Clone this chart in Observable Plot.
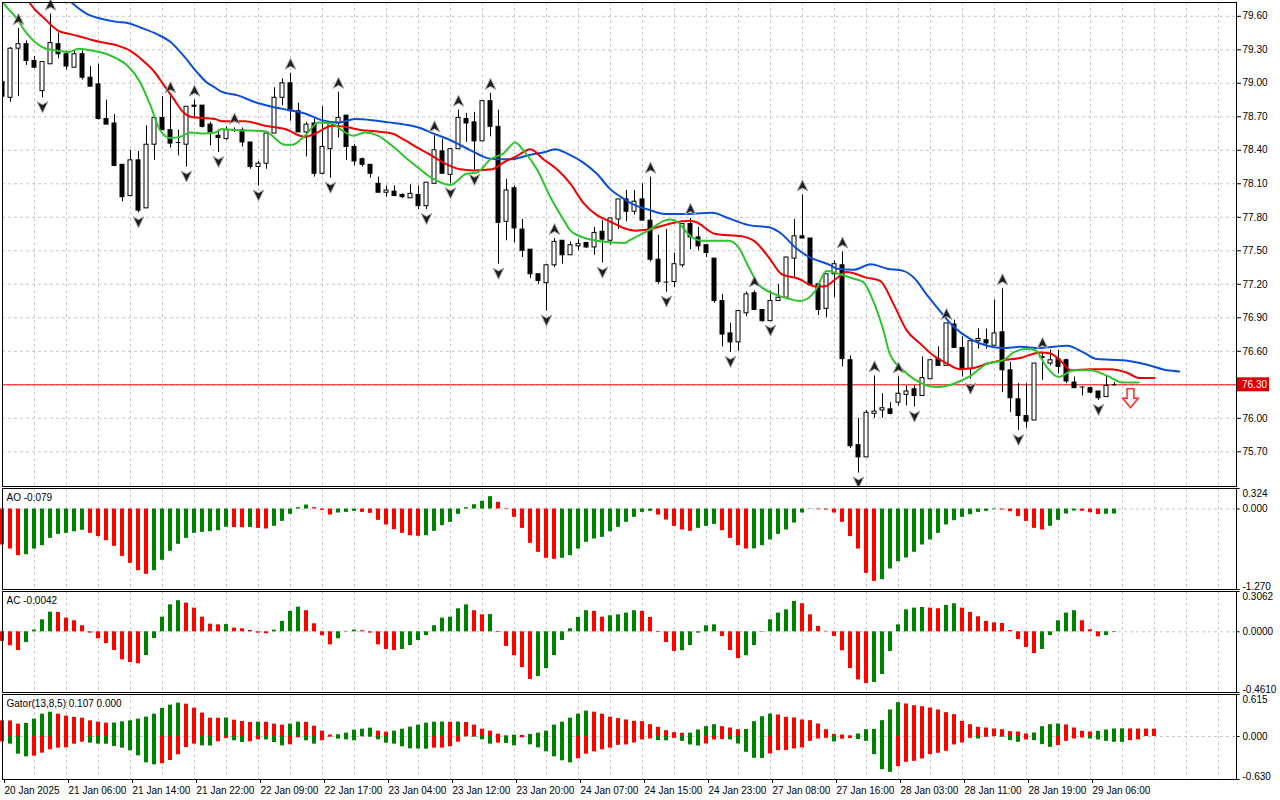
<!DOCTYPE html>
<html><head><meta charset="utf-8">
<script src="https://cdn.jsdelivr.net/npm/d3@7"></script>
<script src="https://cdn.jsdelivr.net/npm/@observablehq/plot@0.6"></script>
<style>
html,body{margin:0;padding:0;background:#fff;overflow:hidden}
#chart{position:relative;width:1280px;height:800px;background:#fff;overflow:hidden}
#chart svg{position:absolute;left:0}
</style></head><body><div id="chart"></div>
<script>
// ---------- candles (hourly bars, index 0..139) ----------
const open  = [79.01,78.87,79.31,79.35,79.20,78.93,79.17,79.35,79.26,79.14,79.26,79.05,78.99,78.68,78.64,78.27,77.99,78.31,77.88,78.45,
78.69,78.58,78.47,78.45,78.80,78.80,78.63,78.53,78.50,78.58,78.58,78.47,78.25,78.28,78.55,78.87,79.00,78.75,78.56,78.64,
78.19,78.41,78.64,78.71,78.43,78.32,78.27,78.10,78.02,78.03,78.00,77.97,78.00,77.90,78.10,78.39,78.18,78.41,78.68,78.65,
78.48,78.84,78.61,77.76,78.06,77.69,77.51,77.29,77.21,77.37,77.59,77.46,77.54,77.57,77.53,77.67,77.59,77.78,77.96,77.85,
77.96,77.77,77.42,77.22,77.22,77.37,77.74,77.62,77.55,77.43,77.05,76.76,76.68,76.94,77.12,76.97,76.87,77.05,77.08,77.43,
77.63,77.61,77.20,76.98,77.29,77.37,76.52,75.76,75.65,76.04,76.07,76.08,76.14,76.21,76.26,76.20,76.35,76.53,76.47,76.84,
76.63,76.44,76.69,76.70,76.65,76.77,76.43,76.17,76.02,75.98,76.55,76.49,76.53,76.52,76.32,76.28,76.27,76.24,76.19,76.30];
const high  = [79.03,79.32,79.49,79.38,79.24,79.19,79.62,79.45,79.29,79.30,79.29,79.15,79.17,78.85,78.72,78.27,78.40,78.39,78.62,78.70,
78.88,78.88,78.58,78.79,78.85,78.80,78.65,78.58,78.61,78.60,78.60,78.47,78.30,78.55,78.96,79.04,79.09,78.82,78.65,78.68,
78.79,78.65,78.92,78.71,78.45,78.33,78.27,78.16,78.08,78.08,78.01,78.09,78.08,78.11,78.53,78.50,78.41,78.76,78.73,78.74,
78.84,78.91,78.76,78.14,78.08,77.78,77.51,77.29,77.38,77.61,77.59,77.58,77.60,77.57,77.71,77.77,77.79,77.96,78.04,78.04,
78.10,78.16,77.64,77.69,77.48,77.74,77.79,77.71,77.55,77.43,77.11,76.85,76.96,77.13,77.14,76.97,77.14,77.20,77.44,77.78,
78.00,77.61,77.20,77.29,77.41,77.49,76.56,76.00,76.07,76.38,76.22,76.14,76.37,76.29,76.29,76.55,76.52,76.64,76.85,76.88,
76.73,76.69,76.80,76.80,77.06,77.16,76.50,76.31,76.31,76.49,76.59,76.61,76.61,76.53,76.37,76.28,76.28,76.24,76.38,76.32];
const low   = [78.86,78.83,78.88,79.16,79.13,78.87,79.17,79.22,79.12,79.14,79.03,78.97,78.67,78.63,78.26,77.94,77.99,77.84,77.88,78.31,
78.58,78.42,78.35,78.25,78.68,78.60,78.44,78.38,78.49,78.56,78.43,78.23,78.08,78.23,78.55,78.80,78.66,78.56,78.34,78.16,
78.18,78.15,78.51,78.31,78.26,78.25,78.15,78.02,77.98,77.99,77.97,77.97,77.87,77.87,78.10,78.19,78.10,78.41,78.47,78.22,
78.48,78.52,77.38,77.59,77.57,77.44,77.25,77.20,76.96,77.35,77.38,77.46,77.50,77.52,77.46,77.39,77.55,77.69,77.76,77.82,
77.77,77.40,77.20,77.13,77.17,77.35,77.51,77.50,77.44,77.03,76.64,76.59,76.60,76.91,76.97,76.86,76.87,77.05,77.08,77.26,
77.61,77.19,76.92,76.90,77.08,76.46,75.73,75.51,75.65,76.00,76.00,76.03,76.11,76.11,76.10,76.20,76.35,76.47,76.47,76.63,
76.37,76.35,76.62,76.62,76.65,76.23,76.05,75.89,75.91,75.98,76.34,76.47,76.40,76.31,76.27,76.20,76.22,76.16,76.19,76.29];
const close = [78.88,79.31,79.35,79.20,79.14,79.19,79.36,79.26,79.15,79.26,79.05,78.97,78.68,78.63,78.26,77.98,78.31,77.86,78.45,78.69,
78.58,78.46,78.47,78.79,78.79,78.61,78.56,78.51,78.58,78.58,78.47,78.25,78.28,78.55,78.87,79.00,78.75,78.56,78.63,78.19,
78.43,78.65,78.69,78.43,78.30,78.27,78.19,78.02,78.04,77.99,77.98,78.01,77.90,78.11,78.40,78.19,78.41,78.69,78.64,78.48,
78.84,78.61,77.75,78.04,77.70,77.50,77.29,77.23,77.37,77.58,77.46,77.55,77.56,77.53,77.66,77.60,77.79,77.96,77.85,77.94,
77.77,77.42,77.22,77.22,77.38,77.74,77.62,77.54,77.48,77.05,76.75,76.68,76.96,77.11,76.97,76.87,77.05,77.08,77.44,77.63,
77.61,77.19,76.97,77.29,77.38,76.53,75.75,75.65,76.05,76.06,76.09,76.04,76.22,76.24,76.20,76.36,76.52,76.47,76.85,76.63,
76.44,76.69,76.71,76.67,76.76,76.43,76.18,76.02,75.97,76.49,76.54,76.52,76.46,76.33,76.27,76.28,76.23,76.18,76.29,76.30];

// fractal bars (index)
const fractUp   = [2,6,21,24,29,36,42,54,57,61,69,81,86,94,100,105,109,112,118,125,130];
const fractDown = [5,17,23,27,32,41,53,56,59,62,68,75,83,91,96,107,114,121,127,137];
// signal arrow
const signals = [{i:141, price:76.18}];
const bid = 76.30;

// Alligator lines: [bar position, price]
const jawPts = [[7.5,79.80],[8.7,79.72],[10.6,79.62],[12.2,79.58],[14.3,79.55],[15.6,79.54],[17.6,79.49],[19.3,79.44],[21.0,79.37],[22.6,79.25],[24.3,79.10],[25.5,79.01],[26.6,78.96],[27.2,78.93],[29.5,78.89],[31.6,78.83],[33.7,78.79],[35.8,78.76],[37.8,78.73],[39.9,78.67],[42.0,78.65],[44.1,78.68],[46.2,78.67],[48.3,78.65],[50.3,78.63],[52.2,78.60],[53.5,78.56],[56.0,78.49],[58.5,78.40],[60.6,78.33],[61.8,78.32],[63.5,78.32],[66.0,78.36],[67.6,78.38],[69.1,78.41],[70.6,78.37],[72.6,78.29],[74.3,78.19],[76.0,78.05],[77.8,77.96],[78.7,77.92],[80.7,77.87],[82.8,77.83],[84.9,77.83],[88.7,77.84],[90.8,77.79],[93.3,77.73],[95.8,77.71],[97.4,77.65],[99.1,77.53],[100.7,77.45],[103.5,77.37],[104.3,77.34],[106.4,77.33],[108.5,77.38],[110.6,77.34],[112.6,77.32],[113.9,77.26],[115.5,77.11],[117.2,76.96],[118.9,76.82],[121.0,76.71],[123.1,76.65],[125.1,76.63],[127.2,76.64],[129.7,76.63],[133.1,76.65],[135.1,76.59],[136.8,76.53],[140.1,76.52],[143.1,76.48],[145.6,76.43],[147.1,76.42]];
const teethPts = [[2.5,79.85],[3.5,79.71],[5.1,79.59],[7.0,79.47],[8.5,79.44],[10.6,79.40],[12.2,79.37],[14.3,79.34],[16.0,79.29],[17.6,79.20],[18.9,79.11],[20.1,78.99],[21.4,78.86],[22.6,78.74],[23.5,78.70],[26.6,78.68],[27.4,78.66],[30.3,78.66],[32.8,78.62],[35.3,78.59],[37.8,78.52],[39.1,78.55],[41.2,78.62],[42.8,78.61],[44.9,78.58],[46.6,78.57],[48.7,78.55],[50.3,78.49],[52.2,78.41],[53.0,78.38],[55.1,78.29],[57.2,78.23],[58.9,78.22],[61.2,78.23],[62.6,78.29],[64.3,78.35],[66.0,78.41],[67.6,78.32],[69.3,78.23],[71.0,78.10],[72.6,77.93],[74.3,77.82],[76.0,77.76],[77.8,77.70],[79.1,77.68],[80.7,77.69],[83.3,77.74],[85.7,77.77],[86.6,77.76],[89.1,77.65],[92.4,77.63],[94.1,77.58],[95.8,77.44],[97.4,77.29],[99.5,77.25],[101.6,77.18],[102.7,77.18],[104.2,77.25],[105.5,77.31],[108.0,77.26],[109.7,77.23],[111.4,77.02],[113.0,76.79],[114.7,76.67],[116.4,76.56],[118.1,76.49],[119.7,76.44],[121.4,76.45],[123.1,76.49],[125.1,76.52],[127.2,76.54],[129.7,76.59],[131.0,76.58],[132.6,76.49],[133.5,76.43],[136.0,76.44],[138.5,76.44],[140.5,76.41],[142.2,76.36],[144.0,76.36]];
const lipsPts = [[-0.3,79.76],[0.55,79.68],[1.8,79.58],[2.8,79.47],[3.9,79.38],[5.1,79.32],[7.0,79.29],[8.3,79.28],[9.5,79.31],[11.4,79.29],[13.1,79.26],[14.3,79.22],[15.6,79.16],[17.2,79.01],[18.5,78.80],[19.7,78.58],[21.0,78.51],[22.2,78.52],[23.5,78.56],[25.1,78.55],[26.6,78.56],[27.4,78.59],[29.5,78.58],[32.8,78.57],[35.3,78.45],[36.2,78.45],[37.8,78.53],[39.5,78.65],[41.2,78.64],[42.4,78.58],[43.9,78.53],[45.3,78.56],[47.0,78.53],[48.7,78.44],[50.8,78.31],[52.2,78.23],[53.5,78.16],[56.0,78.09],[58.0,78.19],[59.3,78.20],[61.0,78.32],[62.6,78.37],[64.1,78.47],[65.1,78.40],[66.8,78.23],[68.5,77.98],[70.2,77.77],[71.0,77.68],[72.2,77.63],[74.3,77.59],[77.8,77.57],[78.3,77.59],[80.7,77.68],[83.3,77.78],[84.1,77.77],[86.2,77.62],[87.4,77.59],[90.8,77.59],[92.0,77.53],[93.3,77.35],[94.5,77.20],[96.6,77.11],[98.3,77.07],[99.7,77.05],[101.6,77.14],[103.0,77.32],[104.7,77.29],[106.4,77.25],[107.6,77.22],[108.9,77.04],[110.1,76.79],[110.9,76.58],[112.6,76.43],[114.7,76.32],[116.8,76.28],[118.9,76.31],[121.0,76.38],[123.1,76.49],[125.1,76.52],[126.4,76.59],[128.0,76.62],[129.1,76.61],[130.5,76.46],[132.0,76.37],[133.9,76.43],[136.0,76.43],[138.1,76.38],[140.1,76.32],[142.0,76.32]];

// Awesome Oscillator
const aoValues = [-0.568,-0.631,-0.736,-0.720,-0.631,-0.578,-0.463,-0.400,-0.384,-0.358,-0.336,-0.384,-0.436,-0.500,-0.589,-0.747,-0.857,-0.973,-1.030,-0.973,
-0.810,-0.668,-0.557,-0.463,-0.384,-0.368,-0.358,-0.342,-0.289,-0.292,-0.295,-0.290,-0.305,-0.315,-0.273,-0.195,-0.084,0.021,0.063,0.021,
-0.021,-0.095,-0.063,-0.053,-0.037,-0.053,-0.068,-0.179,-0.252,-0.326,-0.384,-0.421,-0.431,-0.421,-0.352,-0.263,-0.210,-0.084,0.021,0.068,
0.121,0.195,0.105,0.011,-0.131,-0.305,-0.542,-0.683,-0.778,-0.794,-0.778,-0.736,-0.631,-0.526,-0.473,-0.447,-0.358,-0.289,-0.210,-0.131,
-0.053,-0.037,-0.095,-0.174,-0.273,-0.331,-0.352,-0.305,-0.273,-0.242,-0.342,-0.463,-0.578,-0.631,-0.628,-0.578,-0.489,-0.400,-0.331,-0.221,
-0.063,0.005,-0.011,-0.016,-0.063,-0.210,-0.436,-0.631,-1.015,-1.141,-1.115,-0.946,-0.831,-0.773,-0.683,-0.568,-0.489,-0.384,-0.252,-0.184,
-0.131,-0.089,-0.053,-0.037,-0.011,-0.016,-0.042,-0.116,-0.195,-0.305,-0.331,-0.273,-0.179,-0.079,-0.032,-0.036,-0.058,-0.086,-0.082,-0.079];
// Accelerator Oscillator
const acValues = [-0.073,-0.106,-0.142,-0.081,0.013,0.091,0.149,0.147,0.104,0.084,0.046,-0.010,-0.053,-0.089,-0.142,-0.213,-0.233,-0.243,-0.180,-0.051,
0.111,0.205,0.236,0.218,0.180,0.111,0.058,0.053,0.055,0.028,0.023,0.010,-0.010,-0.015,0.013,0.079,0.155,0.187,0.160,0.061,
-0.030,-0.099,-0.053,0.003,0.013,0.008,-0.010,-0.099,-0.134,-0.142,-0.134,-0.104,-0.066,-0.028,0.046,0.104,0.111,0.175,0.205,0.160,
0.129,0.131,-0.005,-0.111,-0.182,-0.271,-0.362,-0.339,-0.279,-0.180,-0.066,0.023,0.109,0.160,0.155,0.111,0.122,0.129,0.142,0.160,
0.155,0.109,-0.005,-0.081,-0.149,-0.144,-0.104,-0.010,0.046,0.053,-0.035,-0.142,-0.203,-0.182,-0.104,-0.003,0.091,0.142,0.167,0.230,
0.213,0.129,0.041,0.003,-0.035,-0.144,-0.279,-0.365,-0.393,-0.385,-0.324,-0.149,0.053,0.167,0.180,0.185,0.180,0.175,0.200,0.213,
0.180,0.147,0.114,0.079,0.068,0.063,0.010,-0.058,-0.119,-0.165,-0.134,-0.028,0.084,0.142,0.160,0.084,0.015,-0.038,-0.028,-0.0042];
// Gator oscillator (upper to bar 144, lower to bar 142)
const gatorUp = [0.229,0.227,0.181,0.190,0.254,0.327,0.356,0.327,0.298,0.278,0.268,0.229,0.210,0.195,0.197,0.215,0.229,0.254,0.283,0.327,
0.410,0.459,0.488,0.473,0.415,0.342,0.268,0.266,0.270,0.239,0.220,0.205,0.210,0.208,0.181,0.166,0.181,0.210,0.208,0.151,
0.078,0.020,0.025,0.049,0.093,0.107,0.122,0.078,0.063,0.078,0.107,0.137,0.166,0.195,0.210,0.212,0.208,0.211,0.205,0.166,
0.107,0.078,0.034,0.010,0.020,0.015,0.030,0.050,0.078,0.166,0.210,0.268,0.327,0.371,0.356,0.327,0.283,0.262,0.242,0.222,
0.217,0.173,0.134,0.085,0.056,0.046,0.050,0.095,0.144,0.173,0.144,0.124,0.100,0.102,0.217,0.290,0.329,0.315,0.281,0.271,
0.242,0.232,0.183,0.100,0.030,0.020,0.010,0.037,0.100,0.104,0.232,0.388,0.495,0.476,0.451,0.437,0.417,0.388,0.349,0.320,
0.222,0.173,0.134,0.124,0.110,0.100,0.071,0.066,0.037,0.051,0.144,0.173,0.183,0.168,0.124,0.076,0.066,0.076,0.095,0.110,
0.112,0.110,0.109,0.108,0.107];
const gatorDown = [-0.078,-0.112,-0.259,-0.298,-0.288,-0.244,-0.195,-0.171,-0.166,-0.112,-0.083,-0.098,-0.112,-0.114,-0.146,-0.171,-0.210,-0.283,-0.386,-0.415,
-0.400,-0.351,-0.268,-0.161,-0.112,-0.137,-0.139,-0.078,-0.029,-0.063,-0.088,-0.078,-0.049,-0.051,-0.088,-0.137,-0.122,-0.020,-0.063,-0.112,
-0.063,-0.010,-0.039,-0.049,-0.063,-0.005,-0.010,-0.049,-0.098,-0.112,-0.151,-0.181,-0.183,-0.186,-0.171,-0.170,-0.151,-0.083,-0.005,-0.010,
-0.049,-0.112,-0.098,-0.102,-0.137,-0.020,-0.122,-0.166,-0.225,-0.298,-0.356,-0.386,-0.327,-0.259,-0.225,-0.195,-0.171,-0.130,-0.124,-0.095,
-0.051,-0.037,-0.061,-0.063,-0.027,-0.071,-0.124,-0.139,-0.110,-0.051,-0.046,-0.051,-0.110,-0.232,-0.320,-0.322,-0.256,-0.207,-0.205,-0.183,
-0.168,-0.071,-0.037,-0.027,-0.080,-0.040,-0.030,-0.045,-0.071,-0.266,-0.486,-0.525,-0.442,-0.378,-0.364,-0.329,-0.266,-0.246,-0.217,-0.124,
-0.095,-0.027,-0.037,-0.012,-0.003,-0.012,-0.061,-0.085,-0.051,-0.061,-0.120,-0.159,-0.134,-0.071,-0.037,-0.022,-0.037,-0.051,-0.071,-0.085,
-0.087,-0.061,-0.051];

// axis ticks & labels
const priceTicks = [75.70,76.00,76.30,76.60,76.90,77.20,77.50,77.80,78.10,78.40,78.70,79.00,79.30,79.60];
const xLabels = ["20 Jan 2025","21 Jan 06:00","21 Jan 14:00","21 Jan 22:00","22 Jan 09:00","22 Jan 17:00","23 Jan 04:00","23 Jan 12:00","23 Jan 20:00","24 Jan 07:00","24 Jan 15:00","24 Jan 23:00","27 Jan 08:00","27 Jan 16:00","28 Jan 03:00","28 Jan 11:00","28 Jan 19:00","29 Jan 06:00"];
const aoTicks = [{v:0.324,t:"0.324"},{v:0,t:"0.000"},{v:-1.27,t:"-1.270"}];
const acTicks = [{v:0.3062,t:"0.3062"},{v:0,t:"0.0000"},{v:-0.461,t:"-0.4610"}];
const gatorTicks = [{v:0.615,t:"0.615"},{v:0,t:"0.000"},{v:-0.63,t:"-0.630"}];

// ---------- build ----------
const FONT = "'Liberation Sans', Arial, sans-serif";
const GREEN = "#008000", RED = "#ff0000", GRID = "#c8c8c8";
const XDOM = [0, 154.25];
const candles = open.map((o,i)=>({i, open:o, high:high[i], low:low[i], close:close[i]}));
const gridIdx = d3.range(4, 153, 4);
const labelIdx = xLabels.map((_,k)=>k*8);
const style = {fontFamily: FONT, fontSize: "10px", background: "transparent", color: "#000"};

function arrowSym(dir){
  return {draw(ctx, size){
    const r = Math.sqrt(size/Math.PI);
    ctx.moveTo(0, -r*dir);
    ctx.lineTo(r*0.9, r*0.85*dir);
    ctx.lineTo(0, r*0.35*dir);
    ctx.lineTo(-r*0.9, r*0.85*dir);
    ctx.closePath();
  }};
}
const hollowDown = {draw(ctx, size){
  const r = Math.sqrt(size/Math.PI);
  ctx.moveTo(-0.36*r, -r); ctx.lineTo(0.36*r, -r); ctx.lineTo(0.36*r, 0);
  ctx.lineTo(0.82*r, 0); ctx.lineTo(0, r); ctx.lineTo(-0.82*r, 0);
  ctx.lineTo(-0.36*r, 0); ctx.closePath();
}};

const chart = document.getElementById("chart");
function place(svg, top){ svg.style.position="absolute"; svg.style.top = top+"px"; svg.style.left="0px"; chart.appendChild(svg); }

const main = Plot.plot({
  width:1280, height:487, marginLeft:2, marginRight:44, marginTop:2, marginBottom:1, style,
  x:{domain:XDOM, axis:null},
  y:{domain:[75.3893,79.7235], axis:null},
  marks:[
    Plot.ruleX(gridIdx,{stroke:GRID, strokeDasharray:"3,3"}),
    Plot.ruleY(priceTicks,{stroke:GRID, strokeDasharray:"3,3"}),
    Plot.ruleY([bid],{stroke:"#ff0000"}),
    Plot.ruleX(candles,{x:"i", y1:"low", y2:"high", stroke:"#000", clip:true}),
    Plot.rect(candles,{x1:d=>d.i-0.25, x2:d=>d.i+0.25, y1:"open", y2:"close",
      fill:d=>d.close>=d.open?"#ffffff":"#000000", stroke:"#000", clip:true}),
    Plot.ruleY(candles.filter(d=>Math.abs(d.close-d.open)<0.006),{y:"close", x1:d=>d.i-0.3, x2:d=>d.i+0.3, stroke:"#000"}),
    Plot.line(jawPts,{x:d=>d[0], y:d=>d[1], stroke:"#0a4fd6", strokeWidth:2, curve:"monotone-x", clip:true}),
    Plot.line(teethPts,{x:d=>d[0], y:d=>d[1], stroke:"#f00000", strokeWidth:2, curve:"monotone-x", clip:true}),
    Plot.line(lipsPts,{x:d=>d[0], y:d=>d[1], stroke:"#2ec42e", strokeWidth:2, curve:"monotone-x", clip:true}),
    Plot.dot(fractUp,{x:d=>d, y:d=>high[d], dy:-9, r:6, symbol:arrowSym(1), fill:"#1e1e1e", stroke:"#a8a8a8", strokeWidth:1}),
    Plot.dot(fractDown,{x:d=>d, y:d=>low[d], dy:9, r:6, symbol:arrowSym(-1), fill:"#1e1e1e", stroke:"#a8a8a8", strokeWidth:1}),
    Plot.dot(signals,{x:"i", y:"price", r:9.5, symbol:hollowDown, fill:"#fff4f4", stroke:"#ff2a2a", strokeWidth:1.5}),
    Plot.frame({stroke:"#000"}),
    Plot.axisY(priceTicks.filter(d=>d!==bid),{anchor:"right", tickSize:4, tickPadding:2, tickFormat:d=>d.toFixed(2), fill:"#000", label:null})
  ]
});
{
  const by = main.scale("y").apply(bid);
  const g = d3.select(main).append("g");
  g.append("rect").attr("x",1237).attr("y",by-7).attr("width",32).attr("height",14).attr("fill","#dd0000");
  g.append("text").attr("x",1242).attr("y",by).attr("dy","0.35em").attr("fill","#fff")
    .attr("text-anchor","start").attr("font-family",FONT).attr("font-size",10).text(bid.toFixed(2));
}
place(main, 0);

function colorize(vals, absMode){
  return vals.map((v,i)=>{
    const prev = i>0 ? vals[i-1] : null;
    const up = prev===null ? false : (absMode ? Math.abs(v)>Math.abs(prev) : v>prev);
    return {i, v, c: up ? GREEN : RED};
  });
}

function panel({top, height, marginBottom=1, domain, series, title, ticks, xAxis=false}){
  const marks = [
    Plot.ruleX(gridIdx,{stroke:GRID, strokeDasharray:"3,3"}),
    Plot.ruleY([0],{stroke:GRID, strokeDasharray:"3,3"}),
  ];
  for (const s of series){
    marks.push(Plot.rect(s,{x1:d=>d.i-0.25, x2:d=>d.i+0.25, y1:0, y2:"v", fill:"c"}));
  }
  marks.push(
    Plot.frame({stroke:"#000"}),
    Plot.text([title],{frameAnchor:"top-left", dx:4, dy:5, textAnchor:"start", lineAnchor:"top", fill:"#000"}),
    Plot.ruleY(ticks,{y:"v", x1:()=>XDOM[1], x2:()=>XDOM[1]+0.45, stroke:"#000"}),
    Plot.text([ticks[0]],{y:"v", text:"t", frameAnchor:"right", dx:6, dy:1, textAnchor:"start", lineAnchor:"top", fill:"#000"}),
    Plot.text([ticks[1]],{y:"v", text:"t", frameAnchor:"right", dx:6, textAnchor:"start", lineAnchor:"middle", fill:"#000"}),
    Plot.text([ticks[2]],{y:"v", text:"t", frameAnchor:"right", dx:6, textAnchor:"start", lineAnchor:"bottom", fill:"#000"})
  );
  if (xAxis){
    marks.push(Plot.axisX(labelIdx,{anchor:"bottom", tickSize:4, tickPadding:3, textAnchor:"start", dx:2,
      tickFormat:d=>xLabels[d/8], fill:"#000", label:null}));
  }
  const svg = Plot.plot({
    width:1280, height, marginLeft:2, marginRight:44, marginTop:1, marginBottom, style,
    x:{domain:XDOM, axis:null},
    y:{domain, axis:null},
    marks
  });
  place(svg, top);
}

panel({top:487, height:103, domain:[-1.27,0.324], series:[colorize(aoValues,false)], title:"AO -0.079", ticks:aoTicks});
panel({top:590, height:103, domain:[-0.461,0.3062], series:[colorize(acValues,false)], title:"AC -0.0042", ticks:acTicks});
panel({top:693, height:107, marginBottom:21, domain:[-0.63,0.615],
  series:[colorize(gatorUp,false), colorize(gatorDown,true)], title:"Gator(13,8,5) 0.107 0.000", ticks:gatorTicks, xAxis:true});
</script></body></html>
